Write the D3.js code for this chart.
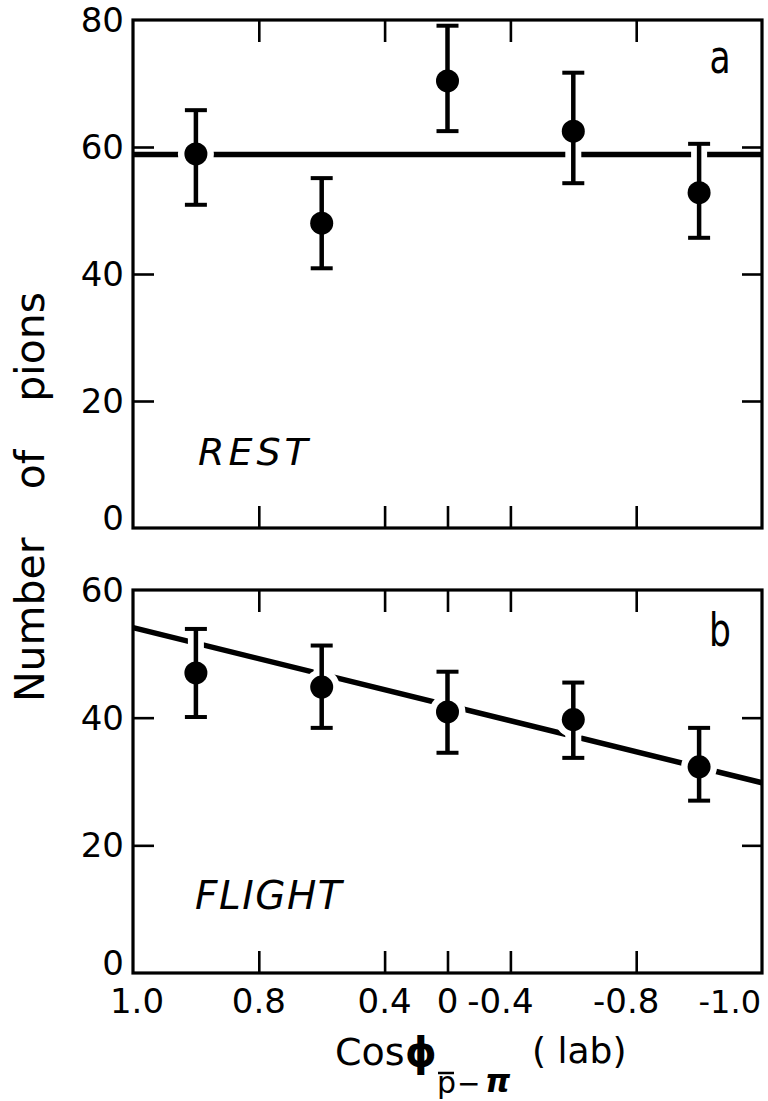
<!DOCTYPE html>
<html>
<head>
<meta charset="utf-8">
<script src="https://cdn.jsdelivr.net/npm/d3@7"></script>
<style>
  html, body { margin: 0; padding: 0; background: #fff; }
  svg { display: block; }
  text { font-family: "DejaVu Sans", sans-serif; fill: #000; }
</style>
</head>
<body>
<svg id="chart" width="768" height="1101"></svg>
<script>
// ---- data ----
const binEdges = [1.0, 0.8, 0.4, -0.4, -0.8, -1.0];
const binCenters = [0.9, 0.6, 0, -0.6, -0.9];

const restValues = [58.9, 48.0, 70.4, 62.5, 52.8];
const restUpper  = [65.8, 55.1, 79.1, 71.7, 60.5];
const restLower  = [50.9, 40.9, 62.5, 54.3, 45.7];
const restFitX   = [1.0, -1.0];
const restFitY   = [58.8, 58.8];

const flightValues = [47.0, 44.8, 40.9, 39.7, 32.3];
const flightUpper  = [53.9, 51.3, 47.2, 45.5, 38.4];
const flightLower  = [40.1, 38.4, 34.5, 33.7, 27.0];
const flightFitX   = [1.0, -1.0];
const flightFitY   = [54.1, 29.8];

const xTickValues = [1.0, 0.8, 0.4, 0, -0.4, -0.8, -1.0];
const xTickLabels = ["1.0", "0.8", "0.4", "0", "-0.4", "-0.8", "-1.0"];
const innerXTicks = [0.8, 0.4, 0, -0.4, -0.8];
const topXTicksA = [0.8, 0.4, -0.4, -0.8];

const restYTicks = [0, 20, 40, 60, 80];
const flightYTicks = [0, 20, 40, 60];

// ---- layout ----
const svg = d3.select("#chart");
const L = 133, R = 762;
const x = d3.scaleLinear()
  .domain(binEdges)
  .range(binEdges.map((d, i) => L + i * (R - L) / (binEdges.length - 1)));

const panels = [
  { top: 20, bottom: 528, ymax: 80, yTicks: restYTicks, vals: restValues, up: restUpper, lo: restLower,
    fitX: restFitX, fitY: restFitY, topTicks: topXTicksA, letter: "a", label: "REST",
    labelX: 198, labelY: 465, labelSize: 38, labelSpacing: 4, letterY: 73 },
  { top: 590, bottom: 973, ymax: 60, yTicks: flightYTicks, vals: flightValues, up: flightUpper, lo: flightLower,
    fitX: flightFitX, fitY: flightFitY, topTicks: innerXTicks, letter: "b", label: "FLIGHT",
    labelX: 195, labelY: 909, labelSize: 39, labelSpacing: 1.5, letterY: 646 }
];

panels.forEach(p => {
  const y = d3.scaleLinear().domain([0, p.ymax]).range([p.bottom, p.top]);
  const g = svg.append("g");
  const innerY = p.yTicks.filter(v => v > 0 && v < p.ymax);

  // tick marks via d3 axes (inward)
  const axB = d3.axisBottom(x).tickValues(innerXTicks).tickSizeInner(-22).tickSizeOuter(0).tickFormat("");
  const axT = d3.axisTop(x).tickValues(p.topTicks).tickSizeInner(-22).tickSizeOuter(0).tickFormat("");
  const axL = d3.axisLeft(y).tickValues(innerY).tickSizeInner(-21).tickSizeOuter(0).tickFormat("");
  const axR = d3.axisRight(y).tickValues(innerY).tickSizeInner(-20).tickSizeOuter(0).tickFormat("");
  [[axB, `translate(0,${p.bottom})`], [axT, `translate(0,${p.top})`],
   [axL, `translate(${L},0)`], [axR, `translate(${R},0)`]].forEach(([ax, tr]) => {
    const a = g.append("g").attr("transform", tr).call(ax);
    a.select(".domain").remove();
    a.selectAll(".tick line").attr("stroke", "#000").attr("stroke-width", 2.6);
  });

  // frame
  g.append("rect").attr("x", L).attr("y", p.top).attr("width", R - L).attr("height", p.bottom - p.top)
    .attr("fill", "none").attr("stroke", "#000").attr("stroke-width", 3.2);

  // y tick labels
  g.selectAll("text.yl").data(p.yTicks).enter().append("text")
    .attr("x", 124).attr("y", v => y(v) + (v === 0 ? -10 : 0))
    .attr("text-anchor", "end").attr("dominant-baseline", "central")
    .attr("font-size", 34).text(v => v);

  // fit line
  g.append("line")
    .attr("x1", x(p.fitX[0])).attr("y1", y(p.fitY[0]))
    .attr("x2", x(p.fitX[1])).attr("y2", y(p.fitY[1]))
    .attr("stroke", "#000").attr("stroke-width", 5.5);

  const pts = binCenters.map((c, i) => ({ c, v: p.vals[i], u: p.up[i], l: p.lo[i] }));

  // white halos (line gaps)
  g.selectAll("line.halo").data(pts).enter().append("line")
    .attr("x1", d => x(d.c)).attr("x2", d => x(d.c))
    .attr("y1", d => y(d.u) + 4).attr("y2", d => y(d.l) - 4)
    .attr("stroke", "#fff").attr("stroke-width", 16);
  g.selectAll("circle.halo").data(pts).enter().append("circle")
    .attr("cx", d => x(d.c)).attr("cy", d => y(d.v)).attr("r", 18).attr("fill", "#fff");

  // error bars
  g.selectAll("line.eb").data(pts).enter().append("line")
    .attr("x1", d => x(d.c)).attr("x2", d => x(d.c))
    .attr("y1", d => y(d.u)).attr("y2", d => y(d.l))
    .attr("stroke", "#000").attr("stroke-width", 4.5);
  ["u", "l"].forEach(k => {
    g.selectAll("line.cap" + k).data(pts).enter().append("line")
      .attr("x1", d => x(d.c) - 11).attr("x2", d => x(d.c) + 11)
      .attr("y1", d => y(d[k])).attr("y2", d => y(d[k]))
      .attr("stroke", "#000").attr("stroke-width", 4);
  });
  g.selectAll("circle.pt").data(pts).enter().append("circle")
    .attr("cx", d => x(d.c)).attr("cy", d => y(d.v)).attr("r", 11.5).attr("fill", "#000");

  // panel letter
  g.append("text").attr("transform", `translate(720,${p.letterY}) scale(0.75,1)`)
    .attr("text-anchor", "middle").attr("font-size", 46).text(p.letter);

  // panel label
  g.append("text").attr("x", p.labelX).attr("y", p.labelY)
    .attr("font-size", p.labelSize).attr("font-style", "italic")
    .attr("letter-spacing", p.labelSpacing).text(p.label);
});

// x tick labels (bottom panel)
const lastIdx = xTickValues.length - 1;
svg.selectAll("text.xl").data(xTickValues).enter().append("text")
  .attr("x", (v, i) => {
    const px = x(v);
    if (i === 0) return px + 4;
    if (i === lastIdx) return px - 1;
    return v < 0 ? px - 10 : px;
  })
  .attr("y", 1013)
  .attr("text-anchor", (v, i) => i === lastIdx ? "end" : "middle")
  .attr("font-size", (v, i) => i === lastIdx ? 32 : 34)
  .text((v, i) => xTickLabels[i]);

// y axis title
svg.append("text")
  .attr("transform", "translate(44,497) rotate(-90)")
  .attr("text-anchor", "middle").attr("font-size", 41).attr("word-spacing", 35)
  .text("Number of pions");

// x axis title
const xt = svg.append("g");
xt.append("text").attr("x", 335).attr("y", 1065).attr("font-size", 38).text("Cos");
xt.append("text").attr("x", 405).attr("y", 1066).attr("font-size", 40).attr("font-weight", "bold").text("ϕ");
xt.append("text").attr("x", 437).attr("y", 1093).attr("font-size", 30).text("p");
xt.append("line").attr("x1", 438).attr("x2", 454).attr("y1", 1073).attr("y2", 1073)
  .attr("stroke", "#000").attr("stroke-width", 2.5);
xt.append("text").attr("x", 457).attr("y", 1093).attr("font-size", 28).text("−");
xt.append("text").attr("x", 485).attr("y", 1092).attr("font-size", 32)
  .attr("font-style", "italic").attr("font-weight", "bold").text("π");
xt.append("text").attr("x", 532).attr("y", 1063).attr("font-size", 36).text("( lab)");
</script>
</body>
</html>
